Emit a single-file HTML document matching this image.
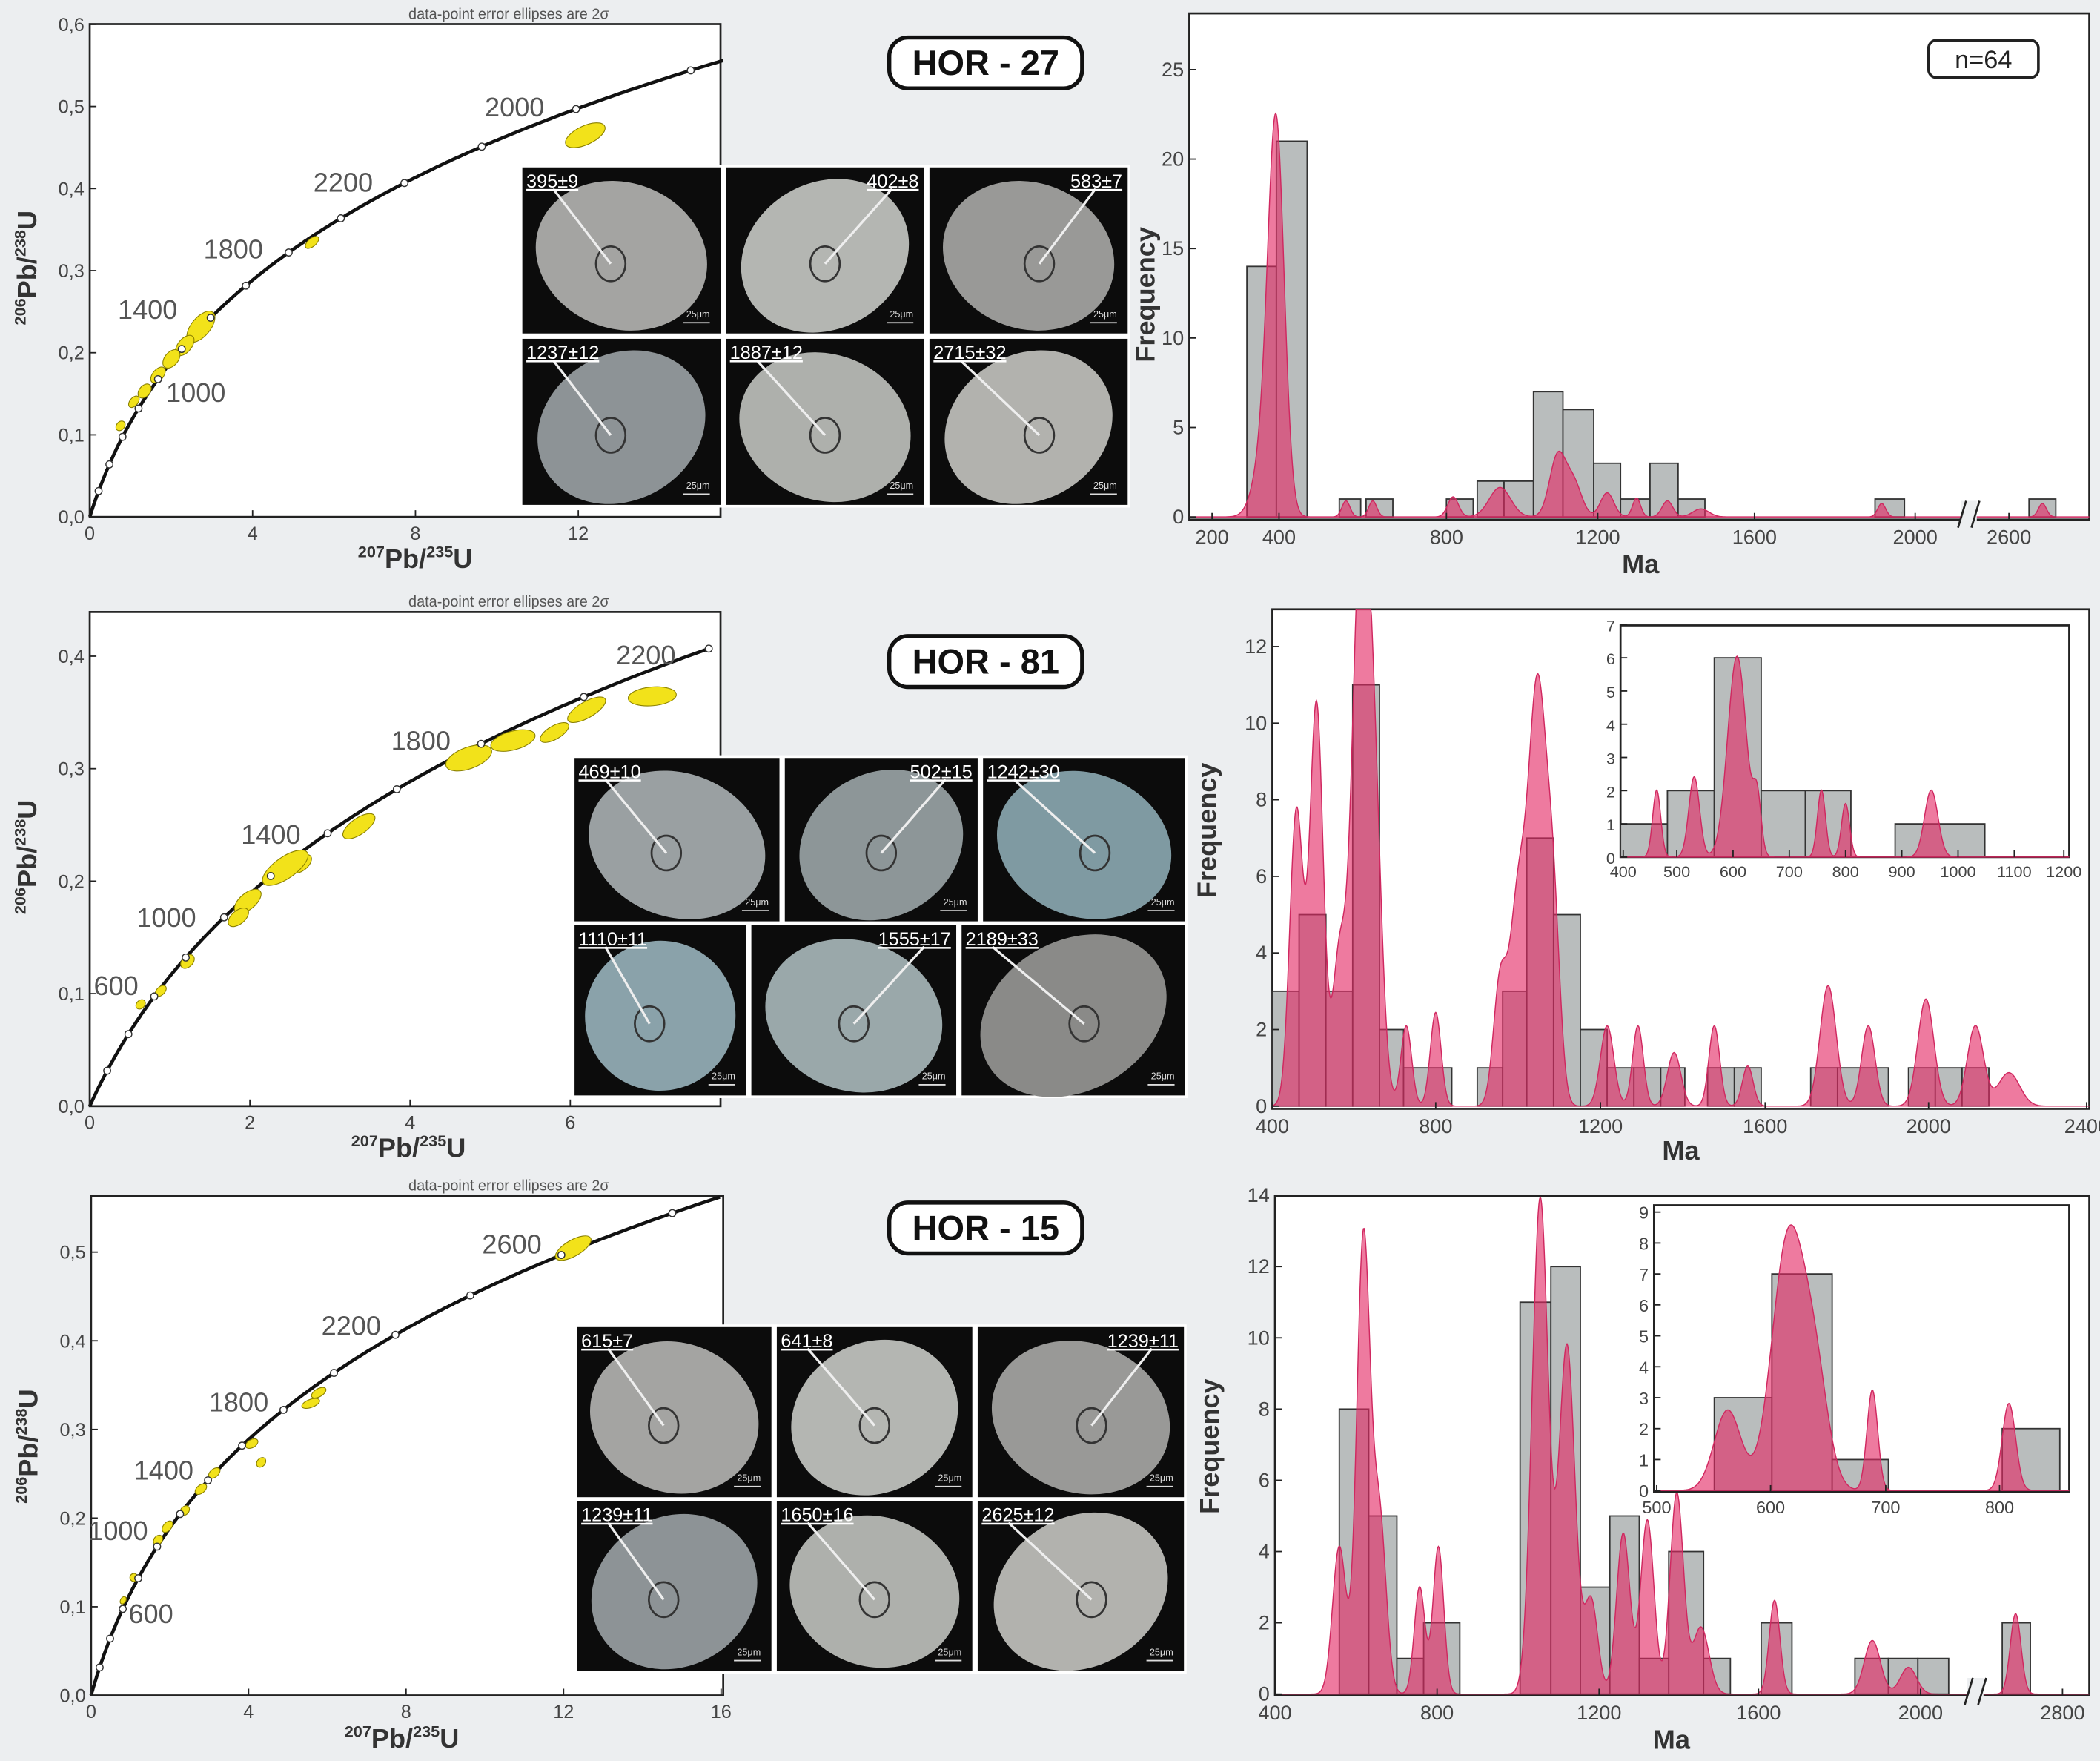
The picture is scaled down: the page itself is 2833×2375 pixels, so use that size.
<!DOCTYPE html>
<html><head><meta charset="utf-8"><style>
html,body{margin:0;padding:0;background:#eceef0;}
svg{display:block;font-family:"Liberation Sans",sans-serif;}
</style></head><body>
<svg id="s" xmlns="http://www.w3.org/2000/svg" width="2833" height="2375" viewBox="0 0 1568 1315" preserveAspectRatio="none">
<rect width="1568" height="1315" fill="#eceef0"/>
<rect x="67" y="18" width="471" height="368" fill="#fff" stroke="#222" stroke-width="1.5"/>
<rect x="67" y="457" width="471" height="369" fill="#fff" stroke="#222" stroke-width="1.5"/>
<rect x="68" y="893" width="472" height="373" fill="#fff" stroke="#222" stroke-width="1.5"/>
<g font-size="11" fill="#555">
<text x="305" y="14">data-point error ellipses are 2σ</text>
<text x="305" y="453">data-point error ellipses are 2σ</text>
<text x="305" y="889">data-point error ellipses are 2σ</text>
</g>
<g id="g"></g>
<g font-size="26" font-weight="bold" text-anchor="middle" fill="#111">
<rect x="664" y="28" width="144" height="38" rx="14" fill="#fff" stroke="#111" stroke-width="3"/>
<text x="736" y="56">HOR - 27</text>
<rect x="664" y="475" width="144" height="38" rx="14" fill="#fff" stroke="#111" stroke-width="3"/>
<text x="736" y="503">HOR - 81</text>
<rect x="664" y="898" width="144" height="38" rx="14" fill="#fff" stroke="#111" stroke-width="3"/>
<text x="736" y="926">HOR - 15</text>
</g>
</svg>
<script>
var NS="http://www.w3.org/2000/svg",G=document.getElementById('g');
function el(t,a,p,txt){if(p!==undefined&&p!==null&&typeof p!=='object'){txt=p;p=null;}var e=document.createElementNS(NS,t);for(var k in a)e.setAttribute(k,a[k]);if(txt!=null)e.textContent=String(txt);(p||G).appendChild(e);return e;}
var L8=1.55125e-10,L5=9.8485e-10;
function conc(t){return [Math.exp(L5*t*1e6)-1,Math.exp(L8*t*1e6)-1];}
function concPanel(x0,y0,sx,sy,xmax,ages,labels,ells,xt,yt,ystep,ydec,xlab){
  var d="";for(var t=0;t<4000;t+=5){var c=conc(t);if(c[0]>xmax)break;d+=(t?"L":"M")+(x0+c[0]*sx).toFixed(1)+","+(y0-c[1]*sy).toFixed(1);}
  el('path',{d:d,fill:'none',stroke:'#111','stroke-width':2.5});
  ells.forEach(function(e){el('ellipse',{cx:e[0],cy:e[1],rx:e[2],ry:e[3],transform:'rotate('+e[4]+' '+e[0]+' '+e[1]+')',fill:'#f2e21a',stroke:'#8a8000','stroke-width':0.6});});
  for(var t=200;t<4000;t+=200){var c=conc(t);if(c[0]>xmax)break;el('circle',{cx:x0+c[0]*sx,cy:y0-c[1]*sy,r:2.6,fill:'#fff',stroke:'#333','stroke-width':0.8});}
  labels.forEach(function(l){el('text',{x:l[1],y:l[2],'font-size':20,fill:'#555'},null,l[0]);});
  xt.forEach(function(v){var px=x0+v*sx;el('line',{x1:px,y1:y0,x2:px,y2:y0-5,stroke:'#222'});el('text',{x:px,y:y0+17,'font-size':14,fill:'#444','text-anchor':'middle'},null,v);});
  yt.forEach(function(v){var py=y0-v*sy;el('line',{x1:x0,y1:py,x2:x0+5,y2:py,stroke:'#222'});el('text',{x:x0-4,y:py+5,'font-size':14,fill:'#444','text-anchor':'end'},null,v.toFixed(ydec).replace('.',','));});
  var t=el('text',{x:xlab[0],y:xlab[1],'font-size':20,'font-weight':'bold',fill:'#333','text-anchor':'middle'});
  t.innerHTML='<tspan font-size="12" dy="-8">207</tspan><tspan dy="8">Pb/</tspan><tspan font-size="12" dy="-8">235</tspan><tspan dy="8">U</tspan>';
  var t2=el('text',{x:0,y:0,'font-size':20,'font-weight':'bold',fill:'#333','text-anchor':'middle',transform:'translate('+(x0-40)+','+xlab[2]+') rotate(-90)'});
  t2.innerHTML='<tspan font-size="12" dy="-8">206</tspan><tspan dy="8">Pb/</tspan><tspan font-size="12" dy="-8">238</tspan><tspan dy="8">U</tspan>';
}
concPanel(67,386,30.4,613,15.6,null,[["2000",362,87],["2200",234,143],["1800",152,193],["1400",88,238],["1000",124,300]],
 [[150,244,7,14,40],[138,258,5,9,40],[128,268,5,8,40],[118,280,4,7,40],[108,292,4,6,40],[100,300,3,5,40],[90,318,3,4,40],[233,181,3,6,50],[437,101,16,7,-25]],
 [0,4,8,12],[0,0.1,0.2,0.3,0.4,0.5,0.6],0.1,1,[310,424,200]);
concPanel(67,826,59.8,840,7.8,null,[["2200",460,496],["1800",292,560],["1400",180,630],["1000",102,692],["600",70,743]],
 [[487,520,18,7,-5],[438,530,16,6,-30],[414,547,12,5,-30],[383,553,17,7,-15],[350,566,18,8,-20],[268,617,14,6,-35],[225,645,9,5,-40],[213,648,20,8,-35],[185,673,12,6,-40],[178,685,9,5,-40],[140,718,6,4,-45],[120,740,5,3,-45],[105,750,4,3,-45]],
 [0,2,4,6],[0,0.1,0.2,0.3,0.4],0.1,1,[305,864,640]);
concPanel(68,1266,29.4,662,16,null,[["2600",360,936],["2200",240,997],["1800",156,1054],["1400",100,1105],["1000",66,1150],["600",96,1212]],
 [[428,932,15,6,-30],[238,1040,6,3,-30],[232,1048,7,3,-20],[188,1078,5,3,-30],[195,1092,4,3,-50],[160,1100,5,3,-40],[150,1112,5,3,-40],[138,1128,4,3,-50],[125,1140,5,3,-50],[118,1150,4,3,-50],[100,1178,3,3,-60],[92,1195,3,2,-60]],
 [0,4,8,12,16],[0,0.1,0.2,0.3,0.4,0.5],0.1,1,[300,1305,1080]);
function mosaic(tiles,labels,blue){
  var minx=1e9,miny=1e9,maxx=0,maxy=0;tiles.forEach(function(t){minx=Math.min(minx,t[0]);miny=Math.min(miny,t[1]);maxx=Math.max(maxx,t[2]);maxy=Math.max(maxy,t[3]);});
  el('rect',{x:minx-2,y:miny-2,width:maxx-minx+4,height:maxy-miny+4,fill:'#fff'});
  tiles.forEach(function(t,i){var w=t[2]-t[0],h=t[3]-t[1],cx=t[0]+w/2,cy=t[1]+h/2;
    el('rect',{x:t[0],y:t[1],width:w,height:h,fill:'#0c0c0c'});
    var fills=blue?['#9aa0a2','#8d9698','#7f9aa2','#8aa2aa','#9aa8aa','#8a8a88']:['#a4a4a2','#b4b6b2','#999997','#8d9396','#aeb0ac','#b2b2ae'];
    el('ellipse',{cx:cx,cy:cy+4,rx:w*0.44,ry:h*0.44,fill:fills[i%6],transform:'rotate('+(i%2?-30:20)+' '+cx+' '+(cy+4)+')'});
    var ox=cx+(i%3-1)*8,oy=cy+10;el('ellipse',{cx:ox,cy:oy,rx:11,ry:13,fill:'none',stroke:'#333','stroke-width':1.5});
    var right=labels[i][1];var lx=right?t[2]-4:t[0]+3;
    el('line',{x1:right?lx-20:lx+20,y1:t[1]+16,x2:ox,y2:oy,stroke:'#eee','stroke-width':1.8});
    el('text',{x:lx,y:t[1]+15,'font-size':14,fill:'#fff','text-anchor':right?'end':'start','text-decoration':'underline'},null,labels[i][0]);
    el('text',{x:t[2]-8,y:t[3]-12,'font-size':7,fill:'#ddd','text-anchor':'end'},null,'25μm');
    el('line',{x1:t[2]-28,y1:t[3]-8,x2:t[2]-8,y2:t[3]-8,stroke:'#ddd'});
  });
}
mosaic([[390,125,538,249],[542,125,690,249],[694,125,842,249],[390,253,538,377],[542,253,690,377],[694,253,842,377]],
 [["395±9"],["402±8",1],["583±7",1],["1237±12"],["1887±12"],["2715±32"]]);
mosaic([[429,566,582,688],[586,566,730,688],[734,566,885,688],[429,691,557,818],[561,691,714,818],[718,691,885,818]],
 [["469±10"],["502±15",1],["1242±30"],["1110±11"],["1555±17",1],["2189±33"]],true);
mosaic([[431,991,576,1118],[580,991,726,1118],[730,991,884,1118],[431,1121,576,1248],[580,1121,726,1248],[730,1121,884,1248]],
 [["615±7"],["641±8"],["1239±11",1],["1239±11"],["1650±16"],["2625±12"]]);
function hist(box,y0,sy,bars,peaks,yt,xt,fs,bg){
  el('rect',{x:box[0],y:box[1],width:box[2]-box[0],height:box[3]-box[1],fill:bg||'#fff',stroke:'#222','stroke-width':1.5});
  bars.forEach(function(b){el('rect',{x:b[0],y:y0-b[2]*sy,width:b[1]-b[0],height:b[2]*sy,fill:'#b9bdbd',stroke:'#333','stroke-width':1});});
  var d="M"+box[0]+","+y0;for(var x=box[0];x<=box[2];x+=0.5){var v=0;peaks.forEach(function(p){v+=p[1]*Math.exp(-0.5*Math.pow((x-p[0])/p[2],2));});d+="L"+x+","+(y0-Math.min(v,y0-box[1]))}d+="L"+box[2]+","+y0+"Z";
  el('path',{d:d,fill:'rgba(228,40,100,0.62)',stroke:'#d02860','stroke-width':0.8});
  yt.forEach(function(v){var py=y0-v*sy;el('line',{x1:box[0],y1:py,x2:box[0]+5,y2:py,stroke:'#222'});el('text',{x:box[0]-4,y:py+5,'font-size':fs,fill:'#444','text-anchor':'end'},null,v);});
  xt.forEach(function(v){el('line',{x1:v[1],y1:box[3],x2:v[1],y2:box[3]-5,stroke:'#222'});el('text',{x:v[1],y:box[3]+fs+3,'font-size':fs,fill:'#444','text-anchor':'middle'},null,v[0]);});
}
function lbl(x,y,yl,n,nx,ny){el('text',{x:x,y:y,'font-size':20,'font-weight':'bold',fill:'#333','text-anchor':'middle'},null,'Ma');
 el('text',{x:0,y:0,'font-size':20,'font-weight':'bold',fill:'#333','text-anchor':'middle',transform:'translate('+yl[0]+','+yl[1]+') rotate(-90)'},null,'Frequency');
 el('rect',{x:nx,y:ny,width:82,height:28,rx:6,fill:'#fff',stroke:'#222','stroke-width':2});
 el('text',{x:nx+41,y:ny+21,'font-size':19,fill:'#222','text-anchor':'middle'},null,n);}
function brk(x,y){el('rect',{x:x-6,y:y-12,width:12,height:20,fill:'#eceef0'});el('path',{d:'M'+(x-8)+','+(y+8)+'L'+(x-2)+','+(y-12)+'M'+(x+2)+','+(y+8)+'L'+(x+8)+','+(y-12),stroke:'#222','stroke-width':1.5,fill:'none'});}
hist([888,10,1560,388],386,13.36,
 [[931,953,14],[953,976,21],[1000,1016,1],[1020,1040,1],[1080,1100,1],[1103,1123,2],[1123,1145,2],[1145,1167,7],[1167,1190,6],[1190,1210,3],[1210,1232,1],[1232,1253,3],[1253,1273,1],[1400,1422,1],[1515,1535,1]],
 [[953,270,6],[945,50,8],[1005,12,3],[1025,12,3],[1085,15,4],[1120,22,8],[1163,45,6],[1175,25,6],[1200,18,5],[1222,14,3],[1245,12,4],[1270,6,6],[1405,10,3],[1525,10,3]],
 [0,5,10,15,20,25],[["200",905],["400",955],["800",1080],["1200",1193],["1600",1310],["2000",1430],["2600",1500]],15);
brk(1470,386);lbl(1225,428,[862,220],'n=64',1440,30);
hist([950,455,1560,828],826,28.6,
 [[950,970,3],[970,990,5],[990,1010,3],[1010,1030,11],[1030,1048,2],[1048,1084,1],[1103,1122,1],[1122,1140,3],[1140,1160,7],[1160,1180,5],[1180,1200,2],[1200,1220,1],[1220,1240,1],[1240,1258,1],[1275,1295,1],[1295,1315,1],[1352,1372,1],[1372,1410,1],[1425,1445,1],[1445,1465,1],[1465,1485,1]],
 [[968,220,5],[983,300,5],[1000,110,5],[1015,370,6],[1025,250,6],[1050,60,4],[1072,70,4],[1120,90,5],[1133,140,6],[1148,310,7],[1160,120,5],[1200,60,5],[1223,60,4],[1250,40,5],[1280,60,4],[1305,30,4],[1365,90,6],[1395,60,5],[1438,80,6],[1475,60,6],[1500,25,8]],
 [0,2,4,6,8,10,12],[["400",950],["800",1072],["1200",1195],["1600",1318],["2000",1440],["2400",1558]],15);
lbl(1255,866,[908,620],'n=56',1450,472);
hist([1210,467,1545,640],640,24.8,
 [[1210,1245,1],[1245,1280,2],[1280,1315,6],[1315,1348,2],[1348,1382,2],[1415,1482,1]],
 [[1237,50,3],[1265,60,4],[1297,150,7],[1312,40,3],[1360,50,3],[1378,40,3],[1442,50,5]],
 [0,1,2,3,4,5,6,7],[["400",1212],["500",1252],["600",1294],["700",1336],["800",1378],["900",1420],["1000",1462],["1100",1504],["1200",1541]],12);
hist([952,893,1560,1266],1265,26.6,
 [[1000,1022,8],[1022,1043,5],[1043,1063,1],[1063,1090,2],[1135,1158,11],[1158,1180,12],[1180,1202,3],[1202,1224,5],[1224,1246,1],[1246,1272,4],[1272,1292,1],[1315,1338,2],[1385,1410,1],[1410,1432,1],[1432,1455,1],[1495,1516,2]],
 [[1000,110,5],[1018,340,5],[1030,130,5],[1060,80,4],[1074,110,4],[1150,370,6],[1170,260,6],[1188,70,5],[1212,120,5],[1230,130,5],[1252,150,5],[1270,50,6],[1325,70,4],[1398,40,6],[1425,20,6],[1505,60,4]],
 [0,2,4,6,8,10,12,14],[["400",952],["800",1073],["1200",1194],["1600",1313],["2000",1434],["2800",1540]],15);
brk(1475,1265);lbl(1248,1306,[910,1080],'n=59',1450,908);
hist([1235,900,1545,1114],1113,23.1,
 [[1280,1323,3],[1323,1368,7],[1368,1410,1],[1495,1538,2]],
 [[1290,60,10],[1335,185,12],[1355,80,10],[1398,75,4],[1500,65,5]],
 [0,1,2,3,4,5,6,7,8,9],[["500",1237],["600",1322],["700",1408],["800",1493]],13);
</script>
</body></html>
